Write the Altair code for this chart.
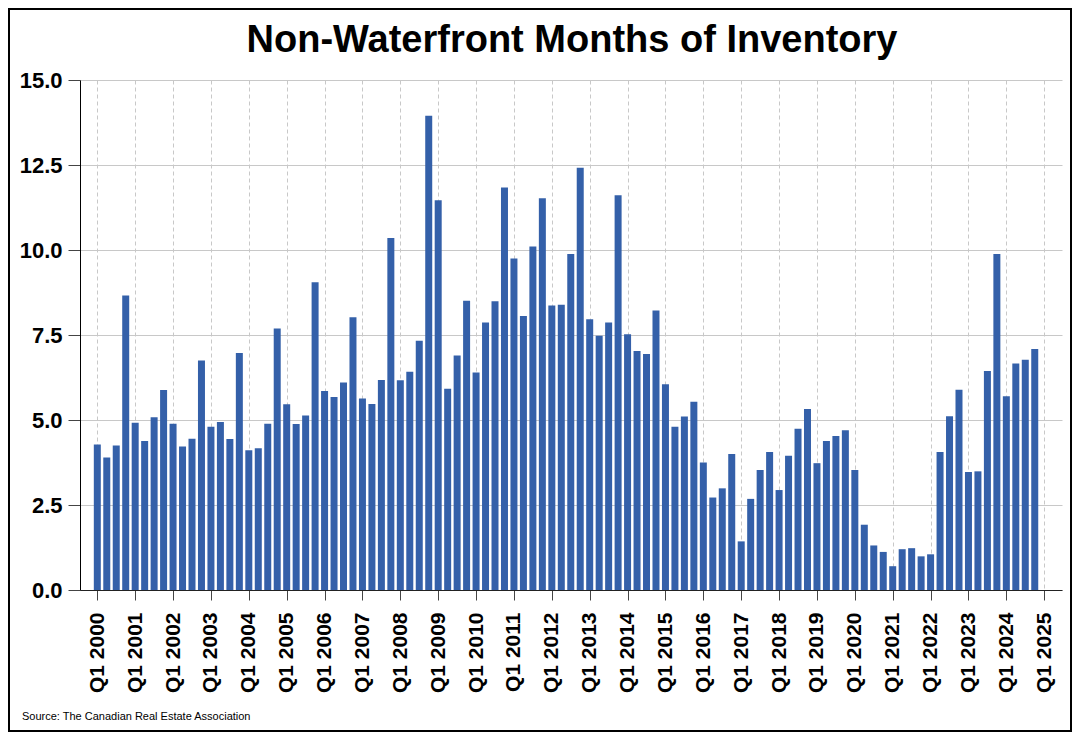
import altair as alt
import pandas as pd

# Quarterly months of inventory, Q1 2000 .. Q4 2024 (100 quarters)
values = [
    4.28, 3.90, 4.25, 8.66,
    4.92, 4.38, 5.08, 5.88,
    4.89, 4.22, 4.45, 6.75,
    4.80, 4.94, 4.44, 6.97,
    4.11, 4.17, 4.89, 7.69,
    5.46, 4.88, 5.13, 9.05,
    5.85, 5.68, 6.10, 8.02,
    5.63, 5.47, 6.18, 10.35,
    6.17, 6.42, 7.33, 13.95,
    11.46, 5.92, 6.90, 8.51,
    6.40, 7.87, 8.49, 11.84,
    9.75, 8.06, 10.10, 11.52,
    8.37, 8.39, 9.88, 12.42,
    7.96, 7.48, 7.87, 11.61,
    7.52, 7.03, 6.94, 8.22,
    6.05, 4.80, 5.10, 5.54,
    3.75, 2.72, 2.99, 4.00,
    1.43, 2.68, 3.53, 4.06,
    2.94, 3.95, 4.74, 5.32,
    3.73, 4.38, 4.53, 4.70,
    3.53, 1.92, 1.31, 1.12,
    0.70, 1.20, 1.23, 0.99,
    1.05, 4.06, 5.11, 5.89,
    3.47, 3.49, 6.44, 9.88,
    5.70, 6.66, 6.77, 7.09,
]
quarter_index = list(range(len(values)))
tick_labels = ["Q1 %d" % y for y in range(2000, 2026)]
tick_positions = list(range(0, 101, 4))
y_ticks = [0, 2.5, 5, 7.5, 10, 12.5, 15]

title_text = "Non-Waterfront Months of Inventory"
source_text = "Source: The Canadian Real Estate Association"

FONT = "Liberation Sans"
W, H = 982, 510

df = pd.DataFrame({"idx": quarter_index, "val": values})

label_expr = "[" + ",".join("'%s'" % t for t in tick_labels) + "][datum.value/4]"

bars = alt.Chart(df).mark_bar(size=7, color="#3460A9").encode(
    x=alt.X(
        "idx:Q",
        scale=alt.Scale(domain=[-1.3, 101.35], nice=False, zero=False),
        axis=alt.Axis(
            values=tick_positions,
            labelExpr=label_expr,
            labelAngle=-90,
            labelFont=FONT,
            labelFontSize=21,
            labelFontWeight="bold",
            labelColor="black",
            labelPadding=12,
            tickSize=10,
            tickColor="#444444",
            domainColor="#222222",
            grid=True,
            gridDash=[4, 3],
            gridColor="#c8c8c8",
            title=None,
        ),
    ),
    y=alt.Y(
        "val:Q",
        scale=alt.Scale(domain=[0, 15], nice=False),
        axis=alt.Axis(
            values=y_ticks,
            format=".1f",
            labelFont=FONT,
            labelFontSize=22,
            labelFontWeight="bold",
            labelColor="black",
            labelPadding=6,
            tickSize=12,
            tickColor="#444444",
            domainColor="black",
            grid=True,
            gridColor="#c8c8c8",
            title=None,
        ),
    ),
)

title = alt.Chart(pd.DataFrame({"t": [title_text]})).mark_text(
    font=FONT, fontSize=38, fontWeight="bold", color="black",
    align="center", baseline="alphabetic",
).encode(text="t:N", x=alt.value(W / 2 + 1), y=alt.value(-28))

source = alt.Chart(pd.DataFrame({"t": [source_text]})).mark_text(
    font=FONT, fontSize=11, color="black", align="left", baseline="alphabetic",
).encode(text="t:N", x=alt.value(-58), y=alt.value(640))

border = alt.Chart(pd.DataFrame({"a": [0]})).mark_rect(
    filled=False, stroke="black", strokeWidth=2,
).encode(x=alt.value(-71), x2=alt.value(W + 9), y=alt.value(-71), y2=alt.value(H + 141))

chart = alt.layer(bars, title, source, border).properties(
    width=W,
    height=H,
    autosize=alt.AutoSizeParams(type="none"),
    padding={"left": 72, "top": 72, "right": 10, "bottom": 142},
    background="white",
).configure_view(stroke=None)

chart.save("out.html", embed_options={"renderer": "svg", "actions": False})
